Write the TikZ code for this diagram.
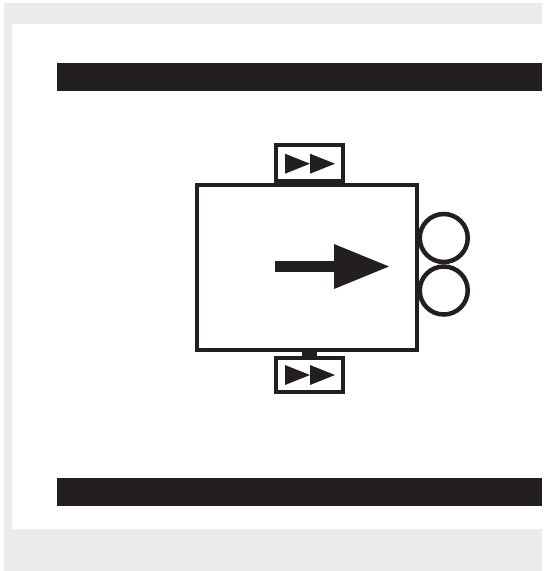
\documentclass[tikz,border=0pt]{standalone}
\usepackage{xcolor}
\usepackage{tikz}
\usetikzlibrary{shapes.geometric, positioning}
\definecolor{barblack}{HTML}{231F20}
\definecolor{framegrey}{HTML}{EBEBEB}

\begin{document}
\begin{tikzpicture}[x=1pt, y=-1pt,
  bar/.style={fill=barblack, minimum width=485pt, minimum height=28pt, inner sep=0pt, anchor=west},
  cart/.style={draw=barblack, line width=4pt, minimum width=220pt, minimum height=165pt, inner sep=0pt},
  drive/.style={draw=barblack, line width=4pt, minimum width=67pt, inner sep=0pt, xshift=3pt},
  roller/.style={draw=barblack, circle, line width=4.5pt, minimum size=48pt, inner sep=0pt},
  playmark/.style={fill=barblack, isosceles triangle, isosceles triangle stretches, minimum height=25pt, minimum width=20pt, inner sep=0pt, outer sep=0pt, anchor=west},
  headmark/.style={fill=barblack, isosceles triangle, isosceles triangle stretches, minimum height=55pt, minimum width=45pt, inner sep=0pt, outer sep=0pt, anchor=west}]

  \useasboundingbox (0,0) rectangle (544,571);
  \fill[white] (0,0) rectangle (544,571);
  \fill[framegrey] (4,3) rectangle (542,571);
  \fill[white] (12,24) rectangle (542,529);

  \node[bar] (railtop) at (57,77) {};
  \node[bar] (railbottom) at (57,492) {};

  \node[cart] (body) at (306.5,267.5) {};

  \node[drive, minimum height=36pt, above=0pt of body] (drivetop) {};
  \node[drive, minimum height=34pt, below=4pt of body] (drivebottom) {};

  \node[roller, right=-1pt of body, yshift=29.5pt] (rollertop) {};
  \node[roller, right=-1pt of body, yshift=-23pt] (rollerbottom) {};

  \node[playmark] (marka) at ([xshift=-24.5pt, yshift=-0.7pt]drivetop.center) {};
  \node[playmark, right=0pt of marka] (markb) {};
  \node[playmark] (markc) at ([xshift=-24.5pt]drivebottom.center) {};
  \node[playmark, right=0pt of markc] (markd) {};

  \node[headmark] (head) at (334,266.5) {};
  \coordinate (tail) at (275,266.5);

  \draw[barblack, line width=11pt] (tail) -- (head.west);
  \draw[barblack, line width=15pt] (drivebottom.north) -- (drivebottom.north |- body.south);
\end{tikzpicture}
\end{document}
